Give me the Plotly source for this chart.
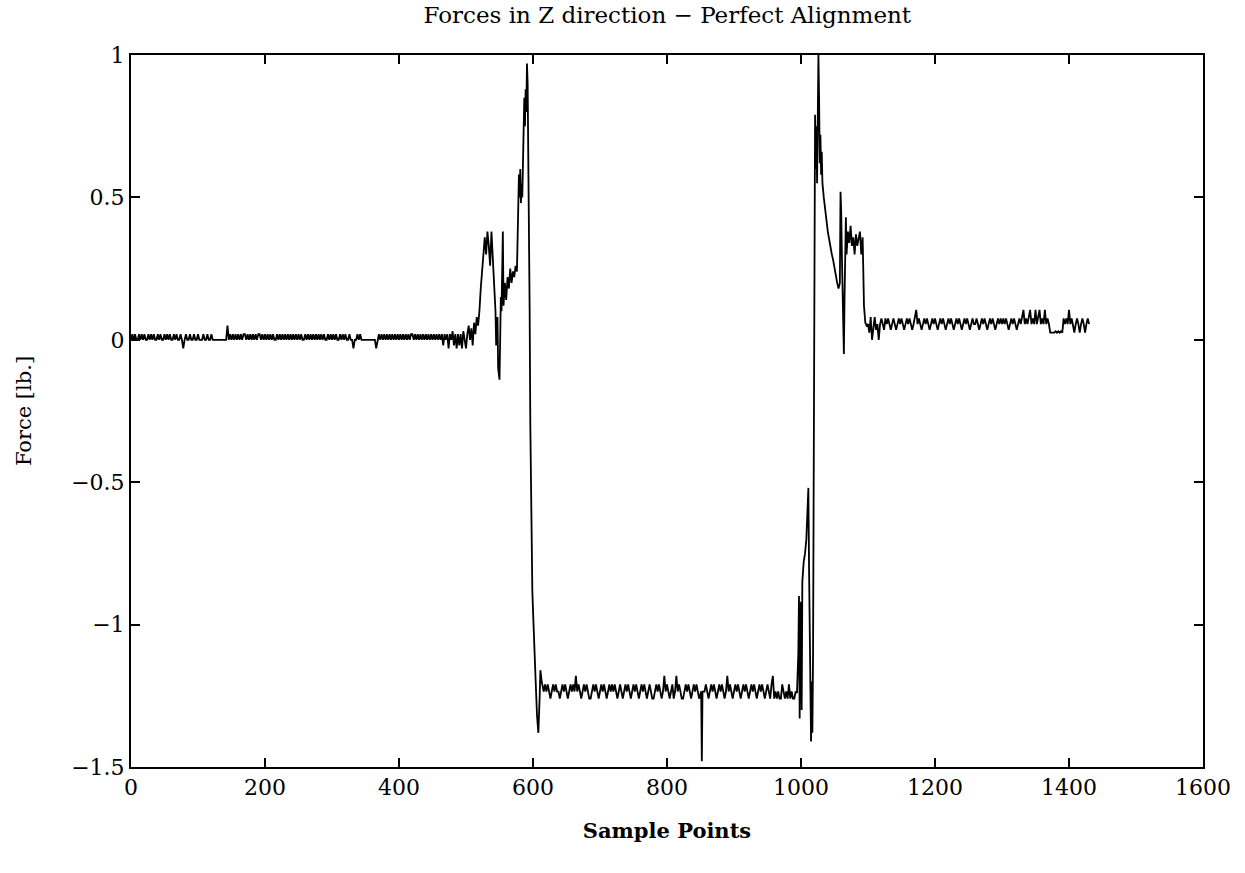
import plotly.graph_objects as go

# ---- data (sample index, force in lb.) ----
# Segment A: baseline near 0, samples 0..488 every 2
seg_a_x = list(range(0, 489, 2))
seg_a_y = [0, 0.02, 0, 0.02, 0, 0, 0.02, 0, 0.02, 0, 0.02, 0, 0, 0.02, 0, 0.02, 0, 0.02, 0, 0,
           0.02, 0, 0.02, 0, 0, 0.02, 0, 0.02, 0, 0.02, 0, 0, 0.02, 0, 0.02, 0, 0, 0.02, 0, -0.03,
           0, 0.02, 0, 0, 0.02, 0, 0, 0.02, 0, 0, 0.02, 0, 0, 0, 0.02, 0, 0, 0.02, 0, 0,
           0.02, 0, 0, 0, 0, 0, 0, 0, 0, 0, 0, 0, 0.05, 0, 0.02, 0, 0.02, 0, 0.02, 0,
           0.02, 0, 0.02, 0, 0.02, 0.02, 0, 0.02, 0, 0.02, 0, 0.02, 0, 0.02, 0, 0.02, 0.02, 0, 0.02, 0,
           0.02, 0, 0.02, 0, 0.02, 0, 0.02, 0, 0, 0.02, 0, 0.02, 0, 0.02, 0, 0.02, 0, 0.02, 0, 0.02,
           0, 0.02, 0, 0.02, 0, 0.02, 0, 0.02, 0, 0, 0.02, 0, 0.02, 0, 0.02, 0, 0.02, 0, 0.02, 0,
           0.02, 0, 0.02, 0, 0.02, 0, 0, 0.02, 0, 0.02, 0, 0.02, 0, 0.02, 0, 0, 0.02, 0, 0.02, 0,
           0.02, 0, 0, 0.02, 0, 0, -0.03, 0, 0, 0.02, 0, 0.02, 0, 0, 0, 0, 0, 0, 0, 0,
           0, 0, 0, -0.03, 0, 0.02, 0, 0.02, 0, 0.02, 0, 0.02, 0, 0.02, 0, 0.02, 0, 0.02, 0, 0.02,
           0, 0.02, 0, 0.02, 0, 0.02, 0, 0.02, 0, 0.02, 0.02, 0, 0.02, 0, 0.02, 0, 0.02, 0, 0.02, 0,
           0.02, 0, 0.02, 0, 0.02, 0, 0.02, 0, 0.02, 0, 0.02, 0, 0.02, -0.02, 0.02, 0, 0.02, -0.03, 0.02, 0,
           0.03, -0.02, 0.02, -0.03, 0.02]

# Segment B: first transition
seg_b_x = [490, 492, 494, 496, 498, 500, 502, 504, 506, 508, 510, 512, 514, 516, 518,
           520, 522, 524, 526, 528, 530, 532, 534, 536, 538, 540, 542, 544, 545, 547,
           548, 550, 551, 552, 553, 555, 556, 558, 560, 562, 564, 566, 568, 570, 572,
           574, 576, 578, 579, 580, 581, 582, 583, 584, 585, 586, 587, 588, 589, 590,
           591, 592, 593, 594, 595, 596, 597, 598, 599, 600, 602, 604, 606, 608, 610,
           611, 613]
seg_b_y = [-0.02, 0.02, -0.03, 0.03, 0, -0.03, 0.02, 0.05, 0.0, 0.04, -0.02, 0.06, 0.02, 0.08, 0.05,
           0.1, 0.18, 0.25, 0.32, 0.36, 0.3, 0.38, 0.33, 0.26, 0.38, 0.3, 0.2, 0.1, -0.02, 0.08,
           -0.1, -0.14, 0.0, 0.15, 0.1, 0.38, 0.12, 0.2, 0.14, 0.22, 0.18, 0.25, 0.2, 0.24, 0.22,
           0.26, 0.24, 0.45, 0.58, 0.5, 0.6, 0.48, 0.55, 0.5, 0.62, 0.78, 0.85, 0.75, 0.88, 0.8,
           0.97, 0.9, 0.7, 0.5, 0.1, -0.3, -0.6, -0.8, -0.88, -0.95, -1.05, -1.2, -1.32, -1.38, -1.25,
           -1.16, -1.2]

# Segment C: lower plateau around -1.235 (samples 616..848 and 856..992 every 2)
seg_c1_x = list(range(616, 849, 2))
seg_c1_y = [-1.235, -1.21, -1.235, -1.21, -1.235, -1.26, -1.235, -1.21, -1.235, -1.21,
            -1.235, -1.235, -1.26, -1.235, -1.21, -1.235, -1.21, -1.235, -1.26, -1.235,
            -1.21, -1.235, -1.21, -1.235, -1.18, -1.235, -1.21, -1.235, -1.26, -1.235,
            -1.21, -1.235, -1.21, -1.235, -1.26, -1.26, -1.235, -1.21, -1.235, -1.21,
            -1.235, -1.26, -1.235, -1.21, -1.235, -1.21, -1.235, -1.26, -1.235, -1.21,
            -1.235, -1.21, -1.235, -1.21, -1.235, -1.26, -1.235, -1.21, -1.235, -1.26,
            -1.235, -1.21, -1.235, -1.21, -1.235, -1.26, -1.235, -1.21, -1.235, -1.21,
            -1.235, -1.26, -1.235, -1.21, -1.235, -1.21, -1.235, -1.26, -1.235, -1.21,
            -1.235, -1.26, -1.26, -1.235, -1.21, -1.235, -1.21, -1.235, -1.26, -1.235,
            -1.18, -1.235, -1.21, -1.235, -1.26, -1.235, -1.21, -1.26, -1.235, -1.18,
            -1.235, -1.21, -1.235, -1.26, -1.26, -1.235, -1.21, -1.235, -1.21, -1.235,
            -1.26, -1.235, -1.21, -1.235, -1.21, -1.235, -1.26]
spike_x = [851, 852, 853]
spike_y = [-1.235, -1.48, -1.235]
seg_c2_x = list(range(856, 993, 2))
seg_c2_y = [-1.235, -1.21, -1.235, -1.26, -1.235, -1.21, -1.235, -1.21, -1.235, -1.26,
            -1.235, -1.21, -1.235, -1.21, -1.235, -1.26, -1.235, -1.18, -1.235, -1.21,
            -1.235, -1.26, -1.235, -1.21, -1.235, -1.21, -1.235, -1.26, -1.235, -1.21,
            -1.235, -1.21, -1.235, -1.26, -1.235, -1.21, -1.235, -1.21, -1.235, -1.26,
            -1.235, -1.21, -1.235, -1.21, -1.235, -1.26, -1.235, -1.21, -1.235, -1.26,
            -1.21, -1.18, -1.26, -1.235, -1.26, -1.235, -1.26, -1.26, -1.21, -1.235,
            -1.26, -1.235, -1.26, -1.21, -1.26, -1.235, -1.26, -1.26, -1.235]

# Segment D: second transition
seg_d_x = [994, 996, 997, 998, 999, 1000, 1001, 1002, 1004, 1006, 1008, 1010, 1011, 1012, 1013,
           1014, 1015, 1016, 1017, 1018, 1019, 1020, 1021, 1022, 1023, 1024, 1025, 1026, 1027, 1028,
           1029, 1030, 1031, 1032, 1034, 1036, 1038, 1040, 1042, 1044, 1046, 1048, 1050, 1052, 1054,
           1056, 1058, 1059, 1060, 1061, 1062, 1063, 1064, 1065, 1066, 1067, 1068, 1070, 1072, 1074,
           1076, 1078, 1080, 1082, 1084, 1086, 1088, 1090, 1092, 1094, 1096, 1098]
seg_d_y = [-1.24, -1.1, -0.9, -1.33, -1.0, -0.92, -1.3, -0.85, -0.78, -0.75, -0.7, -0.6, -0.52, -0.8, -1.1,
           -1.35, -1.41, -1.2, -1.38, -1.1, -0.4, 0.3, 0.79, 0.6, 0.75, 0.55, 0.8, 1.0, 0.85, 0.62,
           0.72, 0.58, 0.66, 0.55, 0.5, 0.45, 0.42, 0.38, 0.35, 0.32, 0.3, 0.28, 0.25, 0.22, 0.2,
           0.18, 0.2, 0.52, 0.45, 0.3, 0.2, 0.1, -0.05, 0.15, 0.4, 0.43, 0.3, 0.38, 0.34, 0.4,
           0.33, 0.36, 0.3, 0.37, 0.33, 0.35, 0.38, 0.3, 0.36, 0.12, 0.06, 0.05]

# Segment E: upper tail around 0.055 (samples 1100..1430 every 2)
seg_e_x = list(range(1100, 1431, 2))
seg_e_y = [0.055, 0.025, 0.08, 0.0, 0.055, 0.08, 0.035, 0.055, 0.0, 0.055, 0.075, 0.055, 0.035, 0.075, 0.055, 0.075, 0.055, 0.035, 0.055, 0.075,
           0.055, 0.035, 0.055, 0.075, 0.055, 0.075, 0.055, 0.035, 0.055, 0.075, 0.055, 0.075, 0.055, 0.035, 0.055, 0.075, 0.105, 0.055, 0.075, 0.055,
           0.035, 0.055, 0.075, 0.055, 0.075, 0.055, 0.035, 0.055, 0.075, 0.055, 0.075, 0.055, 0.035, 0.055, 0.075, 0.055, 0.075, 0.055, 0.035, 0.055,
           0.075, 0.055, 0.075, 0.055, 0.035, 0.055, 0.075, 0.055, 0.075, 0.055, 0.035, 0.055, 0.075, 0.055, 0.075, 0.055, 0.035, 0.055, 0.075, 0.055,
           0.055, 0.075, 0.055, 0.035, 0.055, 0.075, 0.055, 0.075, 0.055, 0.035, 0.055, 0.075, 0.055, 0.075, 0.055, 0.035, 0.055, 0.075, 0.055, 0.075,
           0.055, 0.075, 0.055, 0.075, 0.055, 0.035, 0.055, 0.075, 0.055, 0.075, 0.055, 0.035, 0.055, 0.075, 0.055, 0.075, 0.105, 0.055, 0.075, 0.055,
           0.075, 0.105, 0.055, 0.075, 0.055, 0.105, 0.055, 0.075, 0.105, 0.055, 0.075, 0.055, 0.105, 0.055, 0.075, 0.055, 0.025, 0.025, 0.025, 0.025,
           0.03, 0.025, 0.03, 0.025, 0.03, 0.025, 0.075, 0.055, 0.075, 0.055, 0.105, 0.055, 0.075, 0.055, 0.025, 0.055, 0.075, 0.055, 0.025, 0.055,
           0.075, 0.055, 0.025, 0.055, 0.075, 0.055]

x_ticks = [0, 200, 400, 600, 800, 1000, 1200, 1400, 1600]
y_ticks = [-1.5, -1, -0.5, 0, 0.5, 1]
y_tick_labels = ["\u22121.5", "\u22121", "\u22120.5", "0", "0.5", "1"]

xs = seg_a_x + seg_b_x + seg_c1_x + spike_x + seg_c2_x + seg_d_x + seg_e_x
ys = seg_a_y + seg_b_y + seg_c1_y + spike_y + seg_c2_y + seg_d_y + seg_e_y

FONT = "DejaVu Serif"

fig = go.Figure()
fig.add_trace(go.Scatter(x=xs, y=ys, mode="lines",
                         line=dict(color="black", width=1.8),
                         showlegend=False, hoverinfo="skip"))

axis_common = dict(showgrid=False, zeroline=False, showline=True, linecolor="black",
                   linewidth=2, mirror="ticks", ticks="inside", ticklen=9, tickwidth=1.5,
                   tickcolor="black", tickfont=dict(family=FONT, size=22, color="black"))

fig.update_xaxes(range=[0, 1600], tickvals=x_ticks, ticktext=[str(v) for v in x_ticks],
                 title=dict(text="<b>Sample Points</b>", font=dict(family=FONT, size=21, color="black"),
                            standoff=24),
                 **axis_common)
fig.update_yaxes(range=[-1.5, 1], tickvals=y_ticks, ticktext=y_tick_labels,
                 title=dict(text="Force [lb.]", font=dict(family=FONT, size=21, color="black"),
                            standoff=34),
                 **axis_common)

fig.update_layout(
    width=1245, height=873,
    margin=dict(l=131, r=42, t=55, b=106),
    paper_bgcolor="white", plot_bgcolor="white",
    title=dict(text="Forces in Z direction \u2212 Perfect Alignment", x=0.536, xanchor="center",
               y=0.983, yanchor="middle", font=dict(family=FONT, size=23, color="black")),
)

fig.write_html("out.html")
